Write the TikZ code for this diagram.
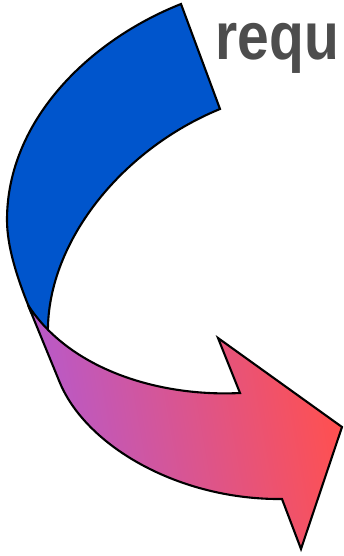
\documentclass[tikz,border=0pt]{standalone}
\usepackage{fontspec}
\setmainfont{Liberation Sans}
\definecolor{bluefill}{HTML}{0055CC}
\definecolor{purpleend}{HTML}{B45AD0}
\definecolor{pinkmid}{HTML}{E8588E}
\definecolor{redend}{HTML}{FF5050}
\definecolor{textgray}{HTML}{4D4D4D}
\tikzset{
  arrowpart/.style={draw=black, line width=2.1pt, line join=miter},
  labeltext/.style={inner sep=0pt, anchor=base west, text=textgray,
    font=\fontsize{57}{57}\selectfont\bfseries, yscale=1.18}
}
\begin{document}
\begin{tikzpicture}[x=1pt,y=-1pt]
\useasboundingbox (0,0) rectangle (344,556);
\clip (0,0) rectangle (344,556);
% blue band
\coordinate (A) at (181,4);
\coordinate (B) at (220,109);
\coordinate (C) at (48,336);
\coordinate (D) at (31,312);
\coordinate (L) at (7,220);
\fill[bluefill] (A) -- (B) .. controls (120,150) and (45,245) .. (C) -- (D)
  .. controls (16,276) and (7,245) .. (L)
  .. controls (7,120) and (90,40) .. (A) -- cycle;
\draw[arrowpart] (C) -- (D) .. controls (16,276) and (7,245) .. (L)
  .. controls (7,120) and (90,40) .. (A) -- (B) .. controls (120,150) and (45,245) .. (C);
% pink arrow
\coordinate (P0) at (28,305);
\coordinate (N1) at (240,393);
\coordinate (N2) at (218,338);
\coordinate (T) at (342,427);
\coordinate (N3) at (301,549);
\coordinate (N4) at (282,499);
\coordinate (Q) at (60,383);
\shade[left color=purpleend, middle color=pinkmid, right color=redend, shading angle=100]
  (P0) .. controls (70,370) and (160,397) .. (N1) -- (N2) -- (T) -- (N3) -- (N4)
  .. controls (180,500) and (87,447) .. (Q) -- cycle;
\draw[arrowpart]
  (P0) .. controls (70,370) and (160,397) .. (N1) -- (N2) -- (T) -- (N3) -- (N4)
  .. controls (180,500) and (87,447) .. (Q) -- cycle;
% text
\node[labeltext] (lbl) at (215.5,60) {requ};
\end{tikzpicture}
\end{document}
